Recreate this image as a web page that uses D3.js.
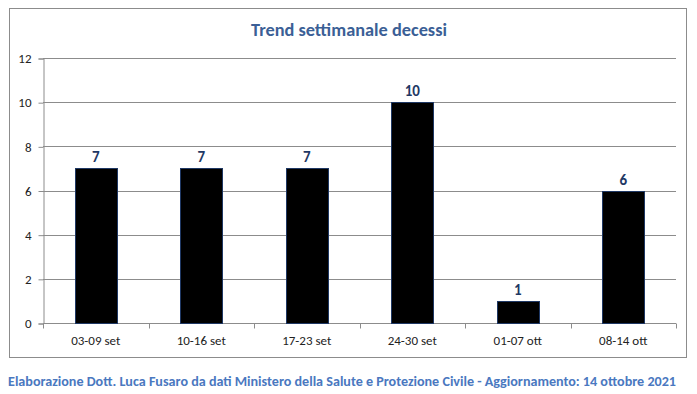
<!DOCTYPE html>
<html>
<head>
<meta charset="utf-8">
<script src="https://cdn.jsdelivr.net/npm/d3@7"></script>
<style>
  body { margin: 0; background: #fff; }
  svg text { font-family: Carlito, Calibri, "Open Sans", sans-serif; }
</style>
</head>
<body>
<div id="vis"></div>
<script>
'use strict';
// chart data
var weeks = ['03-09 set', '10-16 set', '17-23 set', '24-30 set', '01-07 ott', '08-14 ott'];
var deaths = [7, 7, 7, 10, 1, 6];
var yTicks = [0, 2, 4, 6, 8, 10, 12];
var titleText = 'Trend settimanale decessi';
var footerText = 'Elaborazione Dott. Luca Fusaro da dati Ministero della Salute e Protezione Civile - Aggiornamento: 14 ottobre 2021';

var width = 697, height = 394;
var plot = { left: 43, right: 676, top: 58, bottom: 323 };

var svg = d3.select('#vis').append('svg')
  .attr('width', width).attr('height', height);

// outer frame
svg.append('rect')
  .attr('x', 9.5).attr('y', 8.5)
  .attr('width', 677).attr('height', 349)
  .attr('fill', '#fff').attr('stroke', '#8c8c8c');

var x = d3.scaleBand().domain(weeks).range([plot.left, plot.right])
  .paddingInner(0.6).paddingOuter(0.3);
var y = d3.scaleLinear().domain([0, 12]).range([plot.bottom, plot.top]);

// gridlines
svg.append('g').selectAll('line').data(yTicks.slice(1)).join('line')
  .attr('x1', plot.left).attr('x2', plot.right)
  .attr('y1', d => Math.round(y(d)) + 0.5).attr('y2', d => Math.round(y(d)) + 0.5)
  .attr('stroke', '#8c8c8c');

// y axis
var yAxis = svg.append('g')
  .attr('transform', 'translate(' + (plot.left + 0.5) + ',0.5)')
  .call(d3.axisLeft(y).tickValues(yTicks).tickSize(5).tickPadding(7));
yAxis.select('.domain').attr('stroke', '#8c8c8c');
yAxis.selectAll('.tick line').attr('stroke', '#8c8c8c');
yAxis.selectAll('text').attr('font-size', 13).attr('fill', '#222')
  .style('font-family', 'Carlito, Calibri, "Open Sans", sans-serif');

// x axis with ticks at category boundaries
var xAxisG = svg.append('g').attr('transform', 'translate(0,' + (plot.bottom + 0.5) + ')');
xAxisG.append('line').attr('x1', plot.left).attr('x2', plot.right).attr('stroke', '#8c8c8c');
var step = x.step();
xAxisG.selectAll('line.tk').data(d3.range(weeks.length + 1)).join('line')
  .attr('class', 'tk')
  .attr('x1', i => Math.round(plot.left + i * step) + 0.5)
  .attr('x2', i => Math.round(plot.left + i * step) + 0.5)
  .attr('y1', 0).attr('y2', 5).attr('stroke', '#8c8c8c');
xAxisG.selectAll('text').data(weeks).join('text')
  .attr('x', d => x(d) + x.bandwidth() / 2)
  .attr('y', 21)
  .attr('text-anchor', 'middle')
  .attr('font-size', 13).attr('fill', '#222')
  .text(d => d);

// bars
svg.append('g').selectAll('rect').data(weeks).join('rect')
  .attr('x', d => Math.round(x(d)) + 0.5)
  .attr('y', (d, i) => Math.round(y(deaths[i])) + 0.5)
  .attr('width', Math.round(x.bandwidth()))
  .attr('height', (d, i) => Math.round(y(0)) - Math.round(y(deaths[i])))
  .attr('fill', '#000')
  .attr('stroke', '#1f3864');

// value labels
svg.append('g').selectAll('text').data(weeks).join('text')
  .attr('x', d => x(d) + x.bandwidth() / 2)
  .attr('y', (d, i) => y(deaths[i]) - 6)
  .attr('text-anchor', 'middle')
  .attr('font-size', 15).attr('font-weight', 'bold')
  .attr('fill', '#1f3864')
  .text((d, i) => deaths[i]);

// title
svg.append('text')
  .attr('x', 349).attr('y', 36)
  .attr('text-anchor', 'middle')
  .attr('font-size', 17).attr('font-weight', 'bold')
  .attr('fill', '#3b5f96')
  .attr('textLength', 196).attr('lengthAdjust', 'spacingAndGlyphs')
  .text(titleText);

// footer
svg.append('text')
  .attr('x', 8).attr('y', 386)
  .attr('font-size', 13).attr('font-weight', 'bold')
  .attr('fill', '#4a78c0')
  .attr('textLength', 668).attr('lengthAdjust', 'spacingAndGlyphs')
  .text(footerText);
</script>
</body>
</html>
